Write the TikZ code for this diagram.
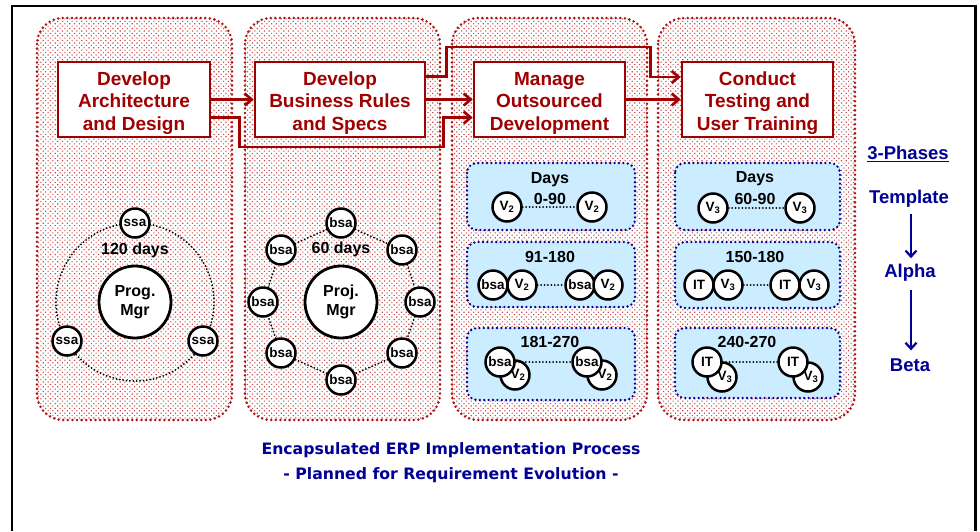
\documentclass[tikz,border=0pt]{standalone}
\usepackage{fontspec}
\setmainfont{Liberation Sans}
\newfontfamily\titlefont{DejaVu Sans}
\usetikzlibrary{patterns.meta,arrows.meta,calc}
\definecolor{dred}{RGB}{160,0,0}
\definecolor{dotred}{RGB}{175,15,15}
\definecolor{navy}{RGB}{0,0,150}
\definecolor{lblue}{RGB}{204,236,255}
\newcommand\mlines[1]{\raisebox{-3.5pt}[\height][\depth]{\begin{tabular}{@{}c@{}}#1\end{tabular}}}
\begin{document}
\begin{tikzpicture}[x=1pt,y=-1pt,
  colbox/.style={preaction={fill=white},
    preaction={pattern={Dots[distance=3.4pt,radius=0.8pt,angle=45]},pattern color=dotred!75},
    draw=dotred, line width=2.8pt, dash pattern=on 0pt off 4.6pt, line cap=round, rounded corners=26pt},
  mbox/.style={draw=dred, line width=2.6pt, fill=white, text=dred, align=center, inner sep=0pt,
    minimum height=75pt, font=\fontsize{19}{22.5}\selectfont\bfseries},
  conn/.style={draw=dred, line width=2.6pt, -{Straight Barb[length=7pt,width=12pt]}},
  bbox/.style={draw=navy, line width=2.6pt, dash pattern=on 0pt off 4.4pt, line cap=round, fill=lblue, rounded corners=10pt},
  sc/.style={circle, draw=black, line width=2.5pt, fill=white, minimum size=29pt, inner sep=0pt, font=\fontsize{13.5}{13.5}\selectfont\bfseries},
  bc/.style={circle, draw=black, line width=2.8pt, fill=white, minimum size=72pt, inner sep=0pt, align=center, font=\fontsize{16}{19}\selectfont\bfseries},
  dotl/.style={black, line width=2pt, dash pattern=on 0pt off 3.4pt, line cap=round},
  lab/.style={inner sep=0pt, font=\fontsize{16}{16}\selectfont\bfseries},
  rl/.style={text=navy, inner sep=0pt, font=\fontsize{18.5}{18.5}\selectfont\bfseries},
  rarr/.style={draw=navy, line width=2.2pt, -{Straight Barb[length=6pt,width=11pt]}},
  ttl/.style={text=navy, inner sep=0pt, font=\titlefont\bfseries\fontsize{15.7}{18}\selectfont}
]
\useasboundingbox (0,0) rectangle (980,531);
\fill[white] (0,0) rectangle (980,531);
% outer frame
\draw[line width=2.5pt] (12,531) -- (12,6) -- (975.5,6) -- (975.5,531);

% columns
\path[colbox] (37,18) rectangle (232,420);
\path[colbox] (245,18) rectangle (440,420);
\path[colbox] (452,18) rectangle (647,420);
\path[colbox] (658,18) rectangle (855,420);

% main boxes
\node[mbox, minimum width=152pt] (b1) at (134,99.5) {\mlines{Develop\\Architecture\\and Design}};
\node[mbox, minimum width=170pt] (b2) at (340,99.5) {\mlines{Develop\\Business Rules\\and Specs}};
\node[mbox, minimum width=151pt] (b3) at (549.5,99.5) {\mlines{Manage\\Outsourced\\Development}};
\node[mbox, minimum width=151pt] (b4) at (757.5,99.5) {\mlines{Conduct\\Testing and\\User Training}};

% connectors
\draw[conn] (b1.east) -- (b2.west);
\draw[conn] (b2.east) -- (b3.west);
\draw[conn] (b3.east) -- (b4.west);
\draw[conn] ($(b1.east)+(0,18)$) -- ++(28,0) -- ++(0,29.5) -| ($(b3.west)+(-29,18)$) -- ($(b3.west)+(0,18)$);
\draw[conn] ($(b2.east)+(0,-23)$) -- ++(20,0) -- ++(0,-29.5) -| ($(b4.west)+(-30,-22.5)$) -- ($(b4.west)+(0,-22.5)$);

% column 1: program manager
\draw[dotl] (135,302) circle (79);
\node[bc] (pm) at (135,302) {Prog.\\Mgr};
\node[lab] (d120) at (135,250) {120 days};
\node[sc] (s1) at (135,223) {ssa};
\node[sc] (s2) at (67,341) {ssa};
\node[sc] (s3) at (203,341) {ssa};

% column 2: project manager
\node[bc] (pj) at (341,302) {Proj.\\Mgr};
\node[lab] (d60) at (341,249) {60 days};
\node[sc] (q1) at (341,223) {bsa};
\node[sc] (q2) at (402,250) {bsa};
\node[sc] (q3) at (420,302) {bsa};
\node[sc] (q4) at (402,353) {bsa};
\node[sc] (q5) at (341,380) {bsa};
\node[sc] (q6) at (281,353) {bsa};
\node[sc] (q7) at (263,302) {bsa};
\node[sc] (q8) at (281,250) {bsa};
\foreach \a/\b in {q1/q2,q2/q3,q3/q4,q4/q5,q5/q6,q6/q7,q7/q8,q8/q1}
  \draw[dotl] (\a) -- (\b);

% column 3 blue boxes
\path[bbox] (467,163) rectangle (635,230);
\path[bbox] (467,242) rectangle (635,307);
\path[bbox] (467,328) rectangle (635,400);
\node[lab] (t3a) at (550,180) {Days};
\node[lab] (t3b) at (550,199) {0-90};
\node[sc] (c3a1) at (507,207) {V\textsubscript{2}};
\node[sc] (c3a2) at (592,207) {V\textsubscript{2}};
\draw[dotl] (c3a1) -- (c3a2);
\node[lab] (t3c) at (550,257) {91-180};
\node[sc] (c3b1) at (493,285) {bsa};
\node[sc] (c3b2) at (522,285) {V\textsubscript{2}};
\node[sc] (c3b3) at (580,285) {bsa};
\node[sc] (c3b4) at (608,285) {V\textsubscript{2}};
\draw[dotl] (c3b2) -- (c3b3);
\node[lab] (t3d) at (550,342) {181-270};
\node[sc] (c3c2) at (515,375) {\hspace*{6pt}V\textsubscript{2}};
\node[sc] (c3c1) at (500,362) {bsa};
\node[sc] (c3c4) at (602,375) {\hspace*{6pt}V\textsubscript{2}};
\node[sc] (c3c3) at (587,362) {bsa};
\draw[dotl] (c3c1) -- (c3c3);

% column 4 blue boxes
\path[bbox] (675,163) rectangle (840,230);
\path[bbox] (675,242) rectangle (840,308);
\path[bbox] (675,328) rectangle (840,398);
\node[lab] (t4a) at (755,179) {Days};
\node[lab] (t4b) at (755,199) {60-90};
\node[sc] (c4a1) at (713,208) {V\textsubscript{3}};
\node[sc] (c4a2) at (800,208) {V\textsubscript{3}};
\draw[dotl] (c4a1) -- (c4a2);
\node[lab] (t4c) at (755,257) {150-180};
\node[sc] (c4b1) at (699,285) {IT};
\node[sc] (c4b2) at (728,285) {V\textsubscript{3}};
\node[sc] (c4b3) at (785,285) {IT};
\node[sc] (c4b4) at (814,285) {V\textsubscript{3}};
\draw[dotl] (c4b2) -- (c4b3);
\node[lab] (t4d) at (747,342) {240-270};
\node[sc] (c4c2) at (722,377) {\hspace*{6pt}V\textsubscript{3}};
\node[sc] (c4c1) at (707,362) {IT};
\node[sc] (c4c4) at (808,377) {\hspace*{6pt}V\textsubscript{3}};
\node[sc] (c4c3) at (793,362) {IT};
\draw[dotl] (c4c1) -- (c4c3);

% phases
\node[rl] (ph) at (908,154) {\underline{3-Phases}};
\node[rl] (tp) at (909,199) {Template};
\node[rl] (al) at (910,273) {Alpha};
\node[rl] (be) at (910,365) {Beta};
\draw[rarr] ([yshift=-6pt]tp.south -| 911,0) -- ([yshift=6pt]al.north -| 911,0);
\draw[rarr] ([yshift=-8pt]al.south -| 911,0) -- ([yshift=8pt]be.north -| 911,0);

% title
\node[ttl] (ttl1) at (451,450) {Encapsulated ERP Implementation Process};
\node[ttl] (ttl2) at (451,475) {- Planned for Requirement Evolution -};
\end{tikzpicture}
\end{document}
